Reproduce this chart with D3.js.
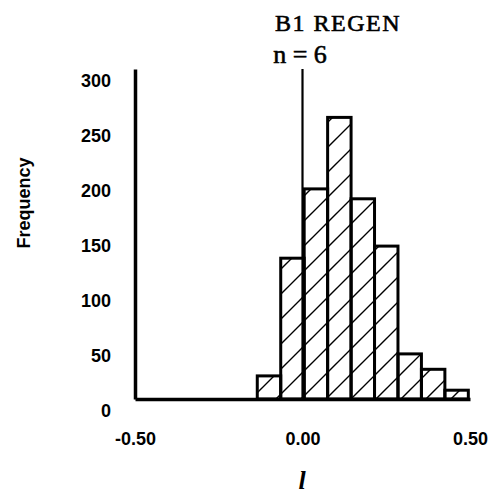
<!DOCTYPE html>
<html>
<head>
<meta charset="utf-8">
<script src="https://cdn.jsdelivr.net/npm/d3@7"></script>
<style>
  html, body { margin: 0; padding: 0; background: #fff; }
  svg { display: block; }
</style>
</head>
<body>
<svg id="chart" width="504" height="497"></svg>
<script>
// ---- data ----
const binStart = -0.135;
const binWidth = 0.07;
const frequencies = [21, 128, 191, 256, 182, 139, 41, 27, 8];
const xTicks = [-0.5, 0.0, 0.5];
const xTickLabels = ["-0.50", "0.00", "0.50"];
const yTicks = [0, 50, 100, 150, 200, 250, 300];
const titleLines = ["B1 REGEN", "n = 6"];
const xLabel = "l";
const yLabel = "Frequency";

const bins = frequencies.map((f, i) => ({
  x0: binStart + i * binWidth,
  x1: binStart + (i + 1) * binWidth,
  value: f
}));

const svg = d3.select("#chart");

const x = d3.scaleLinear().domain([-0.5, 0.5]).range([135, 470]);
const y = d3.scaleLinear().domain([0, 300]).range([399, 69]);

// hatch pattern
const defs = svg.append("defs");
const pat = defs.append("pattern")
  .attr("id", "hatch")
  .attr("patternUnits", "userSpaceOnUse")
  .attr("width", 25).attr("height", 25);
pat.append("path")
  .attr("d", "M-5,30 L30,-5 M-5,5 L5,-5 M20,30 L30,20")
  .attr("stroke", "#000").attr("stroke-width", 1.4).attr("fill", "none");

// bars
svg.append("g").selectAll("rect").data(bins).join("rect")
  .attr("x", d => x(d.x0))
  .attr("y", d => y(d.value))
  .attr("width", d => x(d.x1) - x(d.x0))
  .attr("height", d => y(0) - y(d.value))
  .attr("fill", "url(#hatch)")
  .attr("stroke", "#000")
  .attr("stroke-width", 3);

// zero reference line
svg.append("line")
  .attr("x1", x(0)).attr("x2", x(0))
  .attr("y1", y(300)).attr("y2", y(0))
  .attr("stroke", "#000").attr("stroke-width", 2.2);

// y axis
const yAxis = svg.append("g")
  .attr("transform", `translate(${x(-0.5)},0)`)
  .call(d3.axisLeft(y).tickValues(yTicks).tickSize(0).tickSizeOuter(0).tickPadding(24));
yAxis.select(".domain").attr("stroke-width", 3.5).attr("stroke", "#000");
yAxis.selectAll("text")
  .attr("transform", "translate(0,12)")
  .style("font-family", "'Liberation Sans', Arial, sans-serif")
  .style("font-weight", "bold")
  .style("font-size", "18px")
  .attr("fill", "#000");

// x axis
const xAxis = svg.append("g")
  .attr("transform", `translate(0,${y(0)})`)
  .call(d3.axisBottom(x).tickValues(xTicks).tickFormat((d, i) => xTickLabels[i])
        .tickSize(0).tickSizeOuter(0).tickPadding(33));
xAxis.select(".domain").attr("stroke-width", 3.5).attr("stroke", "#000");
xAxis.selectAll("text")
  .style("font-family", "'Liberation Sans', Arial, sans-serif")
  .style("font-weight", "bold")
  .style("font-size", "18px")
  .attr("fill", "#000");

// title
svg.append("text")
  .attr("x", 338).attr("y", 31)
  .attr("text-anchor", "middle")
  .style("font-family", "'Liberation Serif', 'Times New Roman', serif")
  .style("font-size", "24px")
  .style("letter-spacing", "1.5px")
  .attr("stroke", "#000").attr("stroke-width", 0.6)
  .text(titleLines[0]);
svg.append("text")
  .attr("x", 300).attr("y", 63)
  .attr("text-anchor", "middle")
  .style("font-family", "'Liberation Serif', 'Times New Roman', serif")
  .style("font-size", "26px")
  .attr("stroke", "#000").attr("stroke-width", 0.6)
  .text(titleLines[1]);

// x label
svg.append("text")
  .attr("x", 302).attr("y", 489)
  .attr("text-anchor", "middle")
  .style("font-family", "'Liberation Serif', 'Times New Roman', serif")
  .style("font-style", "italic")
  .style("font-weight", "bold")
  .style("font-size", "26px")
  .text(xLabel);

// y label
svg.append("text")
  .attr("transform", "translate(30,203) rotate(-90)")
  .attr("text-anchor", "middle")
  .style("font-family", "'Liberation Sans', Arial, sans-serif")
  .style("font-weight", "bold")
  .style("font-size", "18px")
  .text(yLabel);
</script>
</body>
</html>
